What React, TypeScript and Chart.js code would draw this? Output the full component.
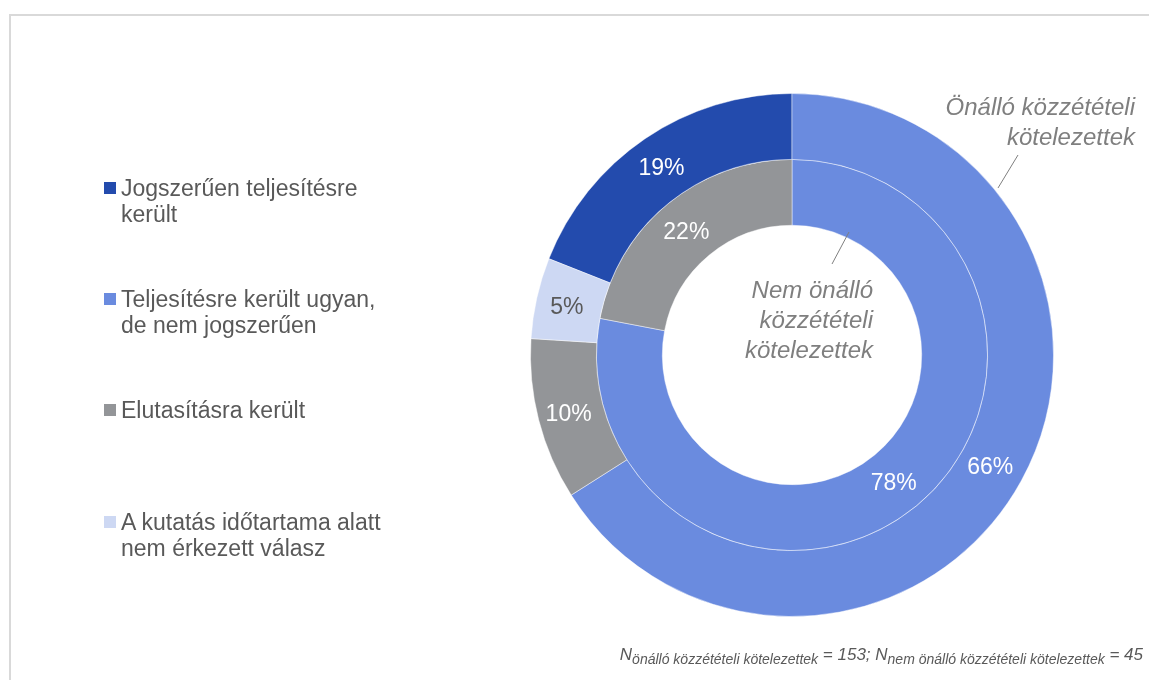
import React, { useEffect, useRef } from "react";
import { Chart, registerables } from "chart.js";

Chart.register(...registerables);

const categories = [
  "Jogszerűen teljesítésre került",
  "Teljesítésre került ugyan, de nem jogszerűen",
  "Elutasításra került",
  "A kutatás időtartama alatt nem érkezett válasz",
];
const legendLines = [
  ["Jogszerűen teljesítésre", "került"],
  ["Teljesítésre került ugyan,", "de nem jogszerűen"],
  ["Elutasításra került"],
  ["A kutatás időtartama alatt", "nem érkezett válasz"],
];
const colors = ["#234BAD", "#6A8BDF", "#939598", "#CDD8F3"];
const labelColors = ["#FFFFFF", "#FFFFFF", "#FFFFFF", "#595959"];
const outerValues = [19, 66, 10, 5]; // Önálló közzétételi kötelezettek
const innerValues = [0, 78, 22, 0]; // Nem önálló közzétételi kötelezettek
const outerName = ["Önálló közzétételi", "kötelezettek"];
const innerName = ["Nem önálló", "közzétételi", "kötelezettek"];

const FONT = "'Liberation Sans', Arial, sans-serif";

const labelPlugin = {
  id: "pctLabels",
  afterDatasetsDraw(chart: any) {
    const ctx = chart.ctx;
    ctx.save();
    ctx.font = `23px ${FONT}`;
    ctx.textAlign = "center";
    ctx.textBaseline = "middle";
    chart.data.datasets.forEach((ds: any, di: number) => {
      const meta = chart.getDatasetMeta(di);
      meta.data.forEach((arc: any, i: number) => {
        const v = ds.data[i];
        if (!v) return;
        const p = arc.tooltipPosition();
        ctx.fillStyle = labelColors[i];
        ctx.fillText(v + "%", p.x - 2, p.y + 3);
      });
    });
    // series names
    const cx = (chart.chartArea.left + chart.chartArea.right) / 2;
    const cy = (chart.chartArea.top + chart.chartArea.bottom) / 2;
    ctx.fillStyle = "#7F7F7F";
    ctx.font = `italic 24px ${FONT}`;
    ctx.textAlign = "right";
    innerName.forEach((t, k) => ctx.fillText(t, cx + 81, cy - 64 + k * 30));
    outerName.forEach((t, k) => ctx.fillText(t, cx + 343, cy - 247 + k * 30));
    ctx.strokeStyle = "#7F7F7F";
    ctx.lineWidth = 1;
    ctx.beginPath();
    ctx.moveTo(cx + 57, cy - 123);
    ctx.lineTo(cx + 40, cy - 91);
    ctx.moveTo(cx + 226, cy - 200);
    ctx.lineTo(cx + 206, cy - 167);
    ctx.stroke();
    ctx.restore();
  },
};

export default function App() {
  const ref = useRef<HTMLCanvasElement>(null);
  useEffect(() => {
    document.body.style.margin = "0";
    const chart = new Chart(ref.current!, {
      type: "doughnut",
      data: {
        labels: categories,
        datasets: [
          {
            data: outerValues,
            backgroundColor: colors,
            borderColor: "rgba(255,255,255,0.45)",
            borderWidth: 1,
            rotation: -68.4,
          } as any,
          {
            data: innerValues,
            backgroundColor: colors,
            borderColor: "rgba(255,255,255,0.45)",
            borderWidth: 1,
            rotation: 0,
          } as any,
        ],
      },
      options: {
        responsive: false,
        animation: false,
        cutout: "49.6%",
        layout: { padding: { left: 530, right: 95, top: 93, bottom: 63 } },
        plugins: { legend: { display: false }, tooltip: { enabled: false } },
      },
      plugins: [labelPlugin],
    });
    return () => chart.destroy();
  }, []);

  const legendTops = [175, 286, 397, 509];
  return (
    <div style={{ position: "relative", width: 1149, height: 680, overflow: "hidden", background: "#fff", fontFamily: FONT }}>
      <div style={{ position: "absolute", left: 9, top: 14, width: 1200, height: 700, border: "2px solid #D9D9D9", boxSizing: "border-box" }} />
      <canvas ref={ref} width={1149} height={680} style={{ position: "absolute", left: 0, top: 0 }} />
      {legendLines.map((lines, i) => (
        <div key={i} style={{ position: "absolute", left: 104, top: legendTops[i], color: "#595959", fontSize: 23, lineHeight: "26px" }}>
          <span style={{ position: "absolute", left: 0, top: 7, width: 12, height: 12, background: colors[i] }} />
          {lines.map((l, k) => (
            <div key={k} style={{ paddingLeft: 17, whiteSpace: "nowrap" }}>{l}</div>
          ))}
        </div>
      ))}
      <div style={{ position: "absolute", right: 6, top: 645, color: "#595959", fontSize: 17, fontStyle: "italic", whiteSpace: "nowrap", lineHeight: "20px" }}>
        N<sub style={{ fontSize: 14 }}>önálló közzétételi kötelezettek</sub> = 153; N<sub style={{ fontSize: 14 }}>nem önálló közzétételi kötelezettek</sub> = 45
      </div>
    </div>
  );
}
